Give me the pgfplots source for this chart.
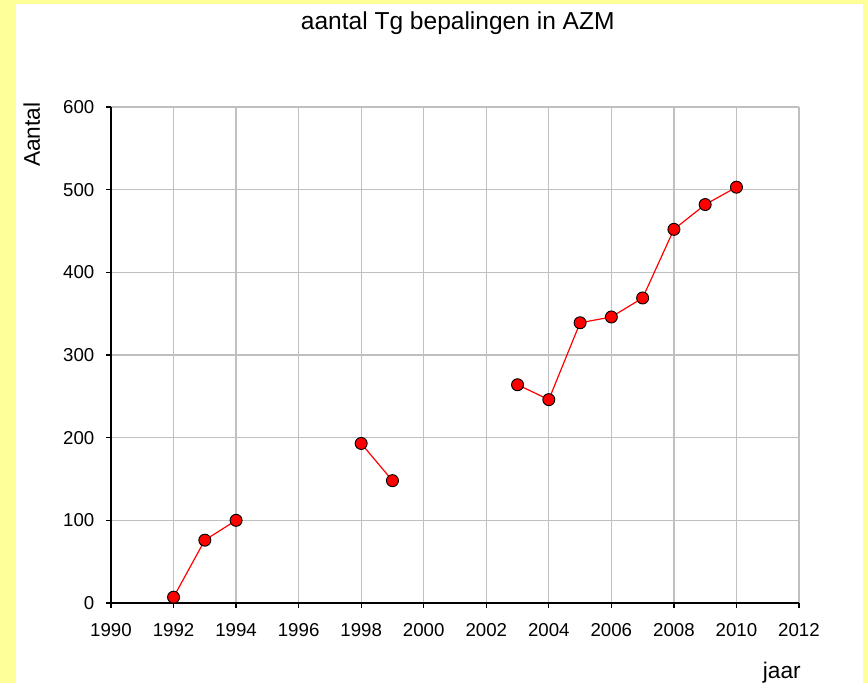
\documentclass[border=0pt]{standalone}
\usepackage{pgfplots}
\pgfplotsset{compat=1.18}
\usepackage{fontspec}
\setmainfont{Liberation Sans}
\definecolor{bgyellow}{HTML}{FFFF99}
\definecolor{gridgray}{HTML}{C0C0C0}
\begin{document}
\begin{tikzpicture}
\fill[bgyellow] (0pt,0pt) rectangle (651pt,512.25pt);
\fill[white] (12pt,0pt) rectangle (647.25pt,509.25pt);
\path[use as bounding box] (0pt,0pt) rectangle (651pt,512.25pt);
\begin{axis}[
  at={(83.25pt,60pt)}, anchor=south west,
  scale only axis,
  width=516pt, height=372pt,
  xmin=1990, xmax=2012, ymin=0, ymax=600,
  xtick={1990,1992,...,2012}, ytick={0,100,...,600},
  /pgf/number format/.cd, 1000 sep={}, assume math mode=true,
  /pgfplots/.cd,
  axis x line=bottom, axis y line=left,
  axis line style={black, line width=0.9pt, -},
  tick align=outside, tick style={black, line width=0.9pt},
  major tick length=4pt,
  grid=major, major grid style={gridgray, line width=0.9pt},
  ticklabel style={font=\fontsize{14}{16}\selectfont},
  xticklabel style={yshift=-7.5pt},
  yticklabel style={xshift=-5pt},
  unbounded coords=jump,
  clip=false,
]
\addplot[red, line width=0.9pt, mark=*, mark size=4.5pt,
  mark options={fill=red, draw=black, line width=0.7pt}]
  coordinates {
  (1992,7) (1993,76) (1994,100) (1995,nan) (1997,nan)
  (1998,193) (1999,148) (2000,nan) (2002,nan)
  (2003,264) (2004,246) (2005,339) (2006,346) (2007,369)
  (2008,452) (2009,482) (2010,503)
  };
\node[font=\fontsize{18.4}{20}\selectfont] at (axis description cs:0.504,1.169) {aantal Tg bepalingen in AZM};
\node[font=\fontsize{17}{19}\selectfont, rotate=90] at (axis description cs:-0.115,0.944) {Aantal};
\node[font=\fontsize{17}{19}\selectfont] at (axis description cs:0.975,-0.141) {jaar};
\end{axis}
\end{tikzpicture}
\end{document}
